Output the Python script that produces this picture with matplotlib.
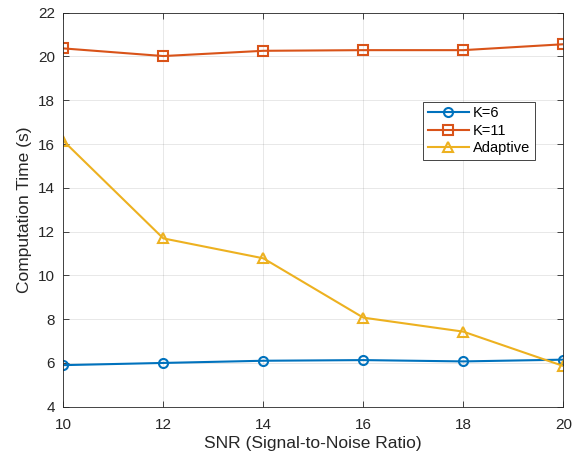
import numpy as np
import matplotlib
matplotlib.use('Agg')
import matplotlib.pyplot as plt

plt.rcParams['font.family'] = ['Liberation Sans', 'DejaVu Sans']

snr = [10, 12, 14, 16, 18, 20]
k6 = [5.90, 6.00, 6.10, 6.13, 6.07, 6.15]
k11 = [20.37, 20.02, 20.26, 20.29, 20.29, 20.56]
adaptive = [16.15, 11.69, 10.78, 8.07, 7.43, 5.86]

fig = plt.figure(figsize=(5.79, 4.59), dpi=100)
ax = fig.add_axes([0.1093, 0.1139, 0.8636, 0.8584])

ax.plot(snr, k6, '-o', color='#0072BD', lw=1.5, ms=6.5, mfc='none', mew=1.5, label='K=6')
ax.plot(snr, k11, '-s', color='#D95319', lw=1.5, ms=6.5, mfc='none', mew=1.5, label='K=11')
ax.plot(snr, adaptive, '-^', color='#EDB120', lw=1.5, ms=7, mfc='none', mew=1.5, label='Adaptive')

ax.set_xlim(10, 20)
ax.set_ylim(4, 22)
ax.set_xticks(np.arange(10, 21, 2))
ax.set_yticks(np.arange(4, 23, 2))
ax.grid(True, color='#262626', alpha=0.12, lw=0.6)
ax.tick_params(direction='in', top=True, right=True, labelsize=11,
               colors='#262626', length=4, width=0.6)
ax.tick_params(axis='x', pad=8)
ax.tick_params(axis='y', pad=6)
for s in ax.spines.values():
    s.set_color('#262626')
    s.set_linewidth(0.6)

ax.set_xlabel('SNR (Signal-to-Noise Ratio)', fontsize=12.5, color='#262626', labelpad=3)
ax.set_ylabel('Computation Time (s)', fontsize=12.5, color='#262626', labelpad=4)

leg = ax.legend(loc='upper left', bbox_to_anchor=(0.72, 0.774), borderaxespad=0,
                fontsize=10.5, fancybox=False, framealpha=1, edgecolor='#262626',
                handlelength=2.8, borderpad=0.3, labelspacing=0.25, handletextpad=0.3)
leg.get_frame().set_linewidth(0.6)

fig.savefig('out.png', dpi=100)
